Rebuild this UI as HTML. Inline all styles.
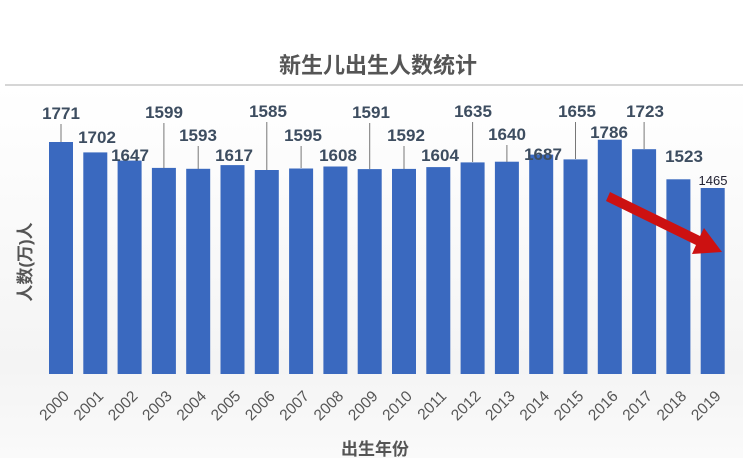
<!DOCTYPE html>
<html><head><meta charset="utf-8"><style>
body{margin:0;background:#fff;}
svg{display:block;font-family:"Liberation Sans","Noto Sans CJK SC",sans-serif;}
.v{font-size:17px;font-weight:bold;fill:#3d4d60;text-anchor:middle;}
.y{font-size:15.5px;fill:#555;text-anchor:end;}
</style></head><body>
<svg width="743" height="458" viewBox="0 0 743 458">
<defs><linearGradient id="bg" x1="0" y1="0" x2="0" y2="1"><stop offset="0" stop-color="#fff"/><stop offset="0.75" stop-color="#f4f4f4"/><stop offset="1" stop-color="#fafafa"/></linearGradient></defs>
<rect x="0" y="86" width="743" height="372" fill="url(#bg)"/>
<line x1="5" y1="85" x2="743" y2="85" stroke="#d6d6d6" stroke-width="2"/>
<text x="378" y="73" font-size="22" font-weight="bold" fill="#555" text-anchor="middle">新生儿出生人数统计</text>
<g fill="#3a69bf">
<rect x="49" y="142" width="24" height="232"/>
<rect x="83.3" y="152.4" width="24" height="221.6"/>
<rect x="117.6" y="160.6" width="24" height="213.4"/>
<rect x="151.9" y="167.9" width="24" height="206.1"/>
<rect x="186.2" y="168.8" width="24" height="205.2"/>
<rect x="220.5" y="165.1" width="24" height="208.9"/>
<rect x="254.8" y="170" width="24" height="204"/>
<rect x="289.1" y="168.5" width="24" height="205.5"/>
<rect x="323.4" y="166.5" width="24" height="207.5"/>
<rect x="357.7" y="169.1" width="24" height="204.9"/>
<rect x="392" y="168.9" width="24" height="205.1"/>
<rect x="426.3" y="167.1" width="24" height="206.9"/>
<rect x="460.6" y="162.4" width="24" height="211.6"/>
<rect x="494.9" y="161.7" width="24" height="212.3"/>
<rect x="529.2" y="154.6" width="24" height="219.4"/>
<rect x="563.5" y="159.4" width="24" height="214.6"/>
<rect x="597.8" y="139.7" width="24" height="234.3"/>
<rect x="632.1" y="149.2" width="24" height="224.8"/>
<rect x="666.4" y="179.3" width="24" height="194.7"/>
<rect x="700.7" y="188" width="24" height="186"/>
</g>
<g stroke="#777" stroke-width="1">
<line x1="61" y1="124" x2="61" y2="142"/>
<line x1="163.9" y1="123" x2="163.9" y2="168"/>
<line x1="198.2" y1="146" x2="198.2" y2="169"/>
<line x1="266.8" y1="122" x2="266.8" y2="170"/>
<line x1="301.1" y1="146" x2="301.1" y2="168"/>
<line x1="369.7" y1="123" x2="369.7" y2="169"/>
<line x1="404" y1="146" x2="404" y2="169"/>
<line x1="472.6" y1="122" x2="472.6" y2="162"/>
<line x1="506.9" y1="145" x2="506.9" y2="162"/>
<line x1="575.5" y1="122" x2="575.5" y2="159"/>
<line x1="644.1" y1="122" x2="644.1" y2="149"/>
</g>
<g class="v">
<text class="v" x="61" y="119">1771</text>
<text class="v" x="97" y="143">1702</text>
<text class="v" x="130" y="161">1647</text>
<text class="v" x="164" y="118">1599</text>
<text class="v" x="198" y="141">1593</text>
<text class="v" x="234" y="161">1617</text>
<text class="v" x="268" y="117">1585</text>
<text class="v" x="303" y="141">1595</text>
<text class="v" x="338" y="161">1608</text>
<text class="v" x="371" y="118">1591</text>
<text class="v" x="406" y="141">1592</text>
<text class="v" x="440" y="161">1604</text>
<text class="v" x="473" y="117">1635</text>
<text class="v" x="507" y="140">1640</text>
<text class="v" x="543" y="160">1687</text>
<text class="v" x="577" y="117">1655</text>
<text class="v" x="609" y="138">1786</text>
<text class="v" x="645" y="117">1723</text>
<text class="v" x="684" y="162">1523</text>
</g>
<text x="713" y="185" font-size="13" fill="#223" text-anchor="middle">1465</text>
<g class="y">
<text class="y" transform="translate(70,397) rotate(-45)">2000</text>
<text class="y" transform="translate(104.3,397) rotate(-45)">2001</text>
<text class="y" transform="translate(138.6,397) rotate(-45)">2002</text>
<text class="y" transform="translate(172.9,397) rotate(-45)">2003</text>
<text class="y" transform="translate(207.2,397) rotate(-45)">2004</text>
<text class="y" transform="translate(241.5,397) rotate(-45)">2005</text>
<text class="y" transform="translate(275.8,397) rotate(-45)">2006</text>
<text class="y" transform="translate(310.1,397) rotate(-45)">2007</text>
<text class="y" transform="translate(344.4,397) rotate(-45)">2008</text>
<text class="y" transform="translate(378.7,397) rotate(-45)">2009</text>
<text class="y" transform="translate(413,397) rotate(-45)">2010</text>
<text class="y" transform="translate(447.3,397) rotate(-45)">2011</text>
<text class="y" transform="translate(481.6,397) rotate(-45)">2012</text>
<text class="y" transform="translate(515.9,397) rotate(-45)">2013</text>
<text class="y" transform="translate(550.2,397) rotate(-45)">2014</text>
<text class="y" transform="translate(584.5,397) rotate(-45)">2015</text>
<text class="y" transform="translate(618.8,397) rotate(-45)">2016</text>
<text class="y" transform="translate(653.1,397) rotate(-45)">2017</text>
<text class="y" transform="translate(687.4,397) rotate(-45)">2018</text>
<text class="y" transform="translate(721.7,397) rotate(-45)">2019</text>
</g>
<text transform="translate(31,262) rotate(-90)" font-size="17" font-weight="bold" fill="#555" text-anchor="middle">人数(万)人</text>
<text x="375" y="455" font-size="17" font-weight="bold" fill="#555" text-anchor="middle">出生年份</text>
<polygon points="610,192 700,236 704,228 722,252 692,254 696,245 606,201" fill="#cc1111"/>
</svg>
</body></html>
